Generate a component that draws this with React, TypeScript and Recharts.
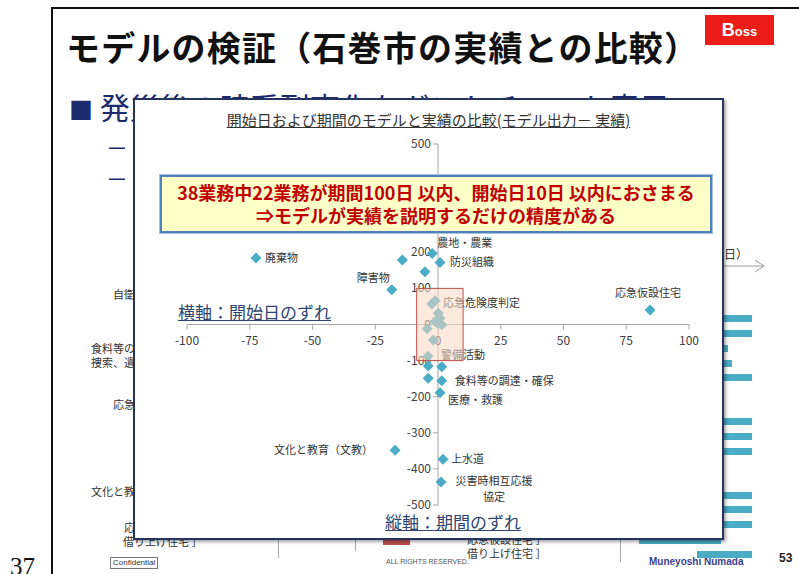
import { ReferenceArea, ReferenceDot, ReferenceLine, Scatter, ScatterChart, XAxis, YAxis } from "recharts";

const taskNames = [
  "廃棄物", "", "農地・農業", "防災組織", "", "障害物", "応急危険度判定", "",
  "", "", "", "", "", "", "", "警備活動", "", "", "", "食料等の調達・確保",
  "医療・救護", "文化と教育（文教）", "上水道", "災害時相互応援\n協定", "応急仮設住宅",
];
const startGap = [
  -72.5, -14.2, -2.3, 0.8, -5.2, -18.4, -1.2, -2.5,
  0.1, 0.8, -1.2, 1.5, 0, -4.3, -1.9, -4, -3.9, 1.5, -3.9, 1.5,
  0.8, -17.1, 2, 1.2, 84.5,
];
const durationGap = [
  184, 179, 197, 172, 146, 96, 66, 57,
  31, 17, 8, -1, 3, -12, -43, -88, -115, -117, -149, -156,
  -189, -348, -373, -436, 40,
];
const xTicks = [-100, -75, -50, -25, 0, 25, 50, 75, 100];
const yTicks = [500, 400, 300, 200, 100, 0, -100, -200, -300, -400, -500];

const points = taskNames.map((name, i) => ({ name, x: startGap[i], y: durationGap[i] }));

const labelStyle: Record<string, { dx: number; dy: number; anchor: "start" | "end" | "middle" }> = {
  "廃棄物": { dx: 9, dy: 0, anchor: "start" },
  "農地・農業": { dx: 5, dy: -10, anchor: "start" },
  "防災組織": { dx: 10, dy: 0, anchor: "start" },
  "障害物": { dx: -2, dy: -12, anchor: "end" },
  "応急危険度判定": { dx: 8, dy: 2, anchor: "start" },
  "警備活動": { dx: 13, dy: -1, anchor: "start" },
  "食料等の調達・確保": { dx: 13, dy: 0, anchor: "start" },
  "医療・救護": { dx: 8, dy: 7, anchor: "start" },
  "文化と教育（文教）": { dx: -22, dy: 0, anchor: "end" },
  "上水道": { dx: 8, dy: 0, anchor: "start" },
  "災害時相互応援\n協定": { dx: 53, dy: -1, anchor: "middle" },
  "応急仮設住宅": { dx: -2, dy: -17, anchor: "middle" },
};

const JP = '"Noto Sans CJK JP", "Noto Sans", sans-serif';
const AQUA = "#4bacc6";
const AXIS = "#a6a6a6";

function Marker(p: any) {
  const { cx, cy, payload } = p;
  const s = 5.5;
  const st = labelStyle[payload.name];
  const lines = payload.name ? payload.name.split("\n") : [];
  return (
    <g>
      <path d={`M${cx},${cy - s}L${cx + s},${cy}L${cx},${cy + s}L${cx - s},${cy}Z`} fill={AQUA} />
      {st &&
        lines.map((ln: string, k: number) => (
          <text key={k} x={cx + st.dx} y={cy + st.dy + k * 16} dy={4} textAnchor={st.anchor} fontSize={11} fill="#333" fontFamily={JP}>
            {ln}
          </text>
        ))}
    </g>
  );
}

function XTick(p: any) {
  const { cx, cy, label } = p;
  return (
    <g>
      <line x1={cx} y1={cy} x2={cx} y2={cy + 5} stroke={AXIS} />
      <text x={cx} y={cy + 20} textAnchor="middle" fontSize={12} fill="#404040" fontFamily={JP}>{label}</text>
    </g>
  );
}

function YTick(p: any) {
  const { cx, cy, label } = p;
  return (
    <g>
      <line x1={cx - 5} y1={cy} x2={cx} y2={cy} stroke={AXIS} />
      <text x={cx - 7} y={cy + 4} textAnchor="end" fontSize={12} fill="#404040" fontFamily={JP}>{label}</text>
    </g>
  );
}

const abs = (l: number, t: number, extra: any = {}) => ({ position: "absolute" as const, left: l, top: t, whiteSpace: "nowrap" as const, ...extra });

const rightBars = [
  [318, 724, 752], [333, 724, 752], [348, 724, 728], [363, 724, 732], [377, 724, 752],
  [421, 724, 752], [436, 724, 752], [451, 724, 752], [495, 724, 752], [509, 724, 752],
  [524, 724, 752], [540, 639, 721], [554, 697, 752],
];

export default function App() {
  return (
    <div style={{ position: "absolute", left: 0, top: 0, width: 799, height: 574, overflow: "hidden", background: "#fff", fontFamily: JP }}>
      {/* slide frame */}
      <div style={abs(51, 7, { width: 760, height: 600, borderLeft: "2px solid #111", borderTop: "2px solid #111" })} />
      <div style={abs(10, 553, { fontFamily: "'Liberation Serif', serif", fontSize: 25, color: "#111" })}>37</div>
      <div style={abs(66, 22, { fontSize: 34, fontWeight: 700, color: "#111", letterSpacing: 1.2 })}>モデルの検証（石巻市の実績との比較）</div>
      <div style={abs(705, 15, { width: 69, height: 30, background: "#ec1c16", color: "#fff", fontWeight: 700, fontFamily: "'Liberation Sans', sans-serif", textAlign: "center", lineHeight: "30px" })}>
        <span style={{ fontSize: 18 }}>B</span><span style={{ fontSize: 13 }}>oss</span>
      </div>
      <div style={abs(69, 84, { fontSize: 30, color: "#1c2a6e" })}><span style={{ fontSize: 24 }}>■</span> 発災後の時系列変化をガントチャート表示</div>
      <div style={abs(106, 130, { fontSize: 22, color: "#1c2a6e" })}>－ 工程表</div>
      <div style={abs(106, 161, { fontSize: 22, color: "#1c2a6e" })}>－ 工程表</div>

      {/* background gantt leftovers */}
      <div style={abs(113, 286, { fontSize: 11, color: "#333" })}>自衛隊</div>
      <div style={abs(91, 341, { fontSize: 11, color: "#333", lineHeight: "14px" })}>食料等の調達<br />捜索、遺体</div>
      <div style={abs(113, 396, { fontSize: 11, color: "#333" })}>応急</div>
      <div style={abs(91, 483, { fontSize: 11, color: "#333" })}>文化と教育</div>
      <div style={abs(124, 520, { fontSize: 11, color: "#333", lineHeight: "14px" })}>応急仮設住宅<br /><span style={{ marginLeft: -1 }}>借り上げ住宅 ］</span></div>
      <div style={abs(110, 557, { fontSize: 8, color: "#333", border: "1px solid #777", padding: "0 2px", fontFamily: "'Liberation Sans', sans-serif", lineHeight: "10px" })}>Confidential</div>
      <div style={abs(278, 540, { width: 1, height: 18, background: "#aaa" })} />
      <div style={abs(355, 537, { width: 1, height: 14, background: "#aaa" })} />
      <div style={abs(620, 537, { width: 1, height: 25, background: "#aaa" })} />
      <div style={abs(383, 540, { width: 27, height: 5, background: "#c0504d" })} />
      <div style={abs(467, 532, { fontSize: 11, color: "#333", lineHeight: "14px" })}>応急仮設住宅 ］<br />借り上げ住宅 ］</div>
      <div style={abs(386, 558, { fontSize: 7, color: "#555", fontFamily: "'Liberation Sans', sans-serif" })}>ALL RIGHTS RESERVED.</div>
      <div style={abs(649, 556, { fontSize: 10, color: "#3b3f8f", fontWeight: 700, fontFamily: "'Liberation Sans', sans-serif" })}>Muneyoshi Numada</div>
      <div style={abs(779, 551, { fontSize: 12, color: "#222", fontWeight: 700, fontFamily: "'Liberation Sans', sans-serif" })}>53</div>
      <div style={abs(724, 245, { fontSize: 12, color: "#333" })}>日）</div>
      <svg style={abs(724, 258)} width={45} height={16}>
        <line x1={0} y1={8} x2={40} y2={8} stroke="#999" />
        <polyline points="31,2 40,8 31,14" fill="none" stroke="#999" />
      </svg>
      {rightBars.map(([y, x1, x2], i) => (
        <div key={i} style={abs(x1, y - 3, { width: x2 - x1, height: 7, background: AQUA })} />
      ))}

      {/* chart panel */}
      <div style={abs(133, 98, { width: 591, height: 442, background: "#fff", border: "2px solid #24345e", boxSizing: "border-box", boxShadow: "2px 2px 3px rgba(0,0,0,0.35)" })}>
        <ScatterChart width={587} height={438} margin={{ top: 44, right: 33, bottom: 33, left: 52 }}>
          <XAxis type="number" dataKey="x" domain={[-100, 100]} hide />
          <YAxis type="number" dataKey="y" domain={[-500, 500]} hide />
          <ReferenceLine y={0} stroke={AXIS} />
          <ReferenceLine x={0} stroke={AXIS} />
          {xTicks.map((v) => (
            <ReferenceDot key={"x" + v} x={v} y={0} r={0} ifOverflow="visible" shape={(p: any) => <XTick {...p} label={v} />} />
          ))}
          {yTicks.map((v) => (
            <ReferenceDot key={"y" + v} x={0} y={v} r={0} ifOverflow="visible" shape={(p: any) => <YTick {...p} label={v} />} />
          ))}
          <Scatter data={points} shape={Marker} isAnimationActive={false} />
          <ReferenceArea x1={-8.5} x2={10} y1={-100} y2={100} fill="#fad9c2" fillOpacity={0.55} stroke="#c0504d" strokeWidth={1} {...({ zIndex: 700 } as any)} />
        </ScatterChart>
        <div style={abs(0, 9, { width: 587, textAlign: "center", fontSize: 15, color: "#333", textDecoration: "underline" })}>
          開始日および期間のモデルと実績の比較(モデル出力－ 実績)
        </div>
        <div style={abs(25, 75, { width: 552, height: 58, boxSizing: "border-box", background: "#ffffc8", border: "2px solid #4f81bd", outline: "1px solid #a9c1e0", textAlign: "center", color: "#c00000", fontWeight: 700, fontSize: 18, lineHeight: "23px", paddingTop: 4 })}>
          38業務中22業務が期間100日 以内、開始日10日 以内におさまる<br />⇒モデルが実績を説明するだけの精度がある
        </div>
        <div style={abs(43, 199, { fontSize: 17, color: "#2d4670", textDecoration: "underline" })}>横軸：開始日のずれ</div>
        <div style={abs(250, 409, { fontSize: 17, color: "#2d4670", textDecoration: "underline" })}>縦軸：期間のずれ</div>
      </div>
    </div>
  );
}
